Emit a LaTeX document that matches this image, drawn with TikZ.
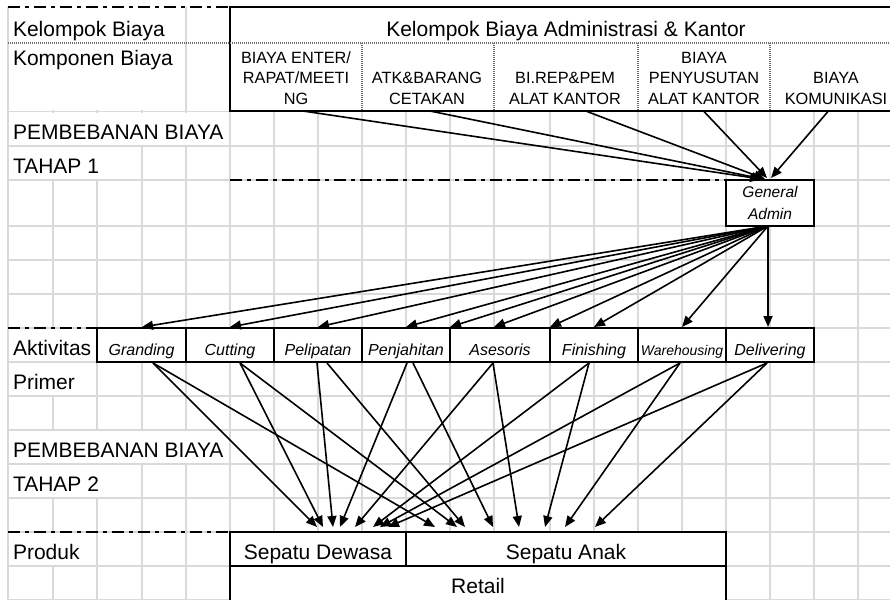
\documentclass[tikz,border=0pt]{standalone}
\usepackage{fontspec}
\setmainfont{Liberation Sans}
\usetikzlibrary{arrows.meta}
\definecolor{gridgray}{RGB}{217,217,217}
\definecolor{dotgray}{RGB}{110,110,110}

\begin{document}
\begin{tikzpicture}[x=1pt,y=-1pt,
  every node/.style={inner sep=0pt,outer sep=0pt},
  grid line/.style={draw=gridgray,line width=1.6pt},
  box line/.style={line width=2pt},
  sep line/.style={draw=dotgray,line width=1.3pt,dash pattern=on 1pt off 1pt},
  dashdot/.style={line width=2pt,dash pattern=on 12pt off 5pt on 4pt off 5pt},
  rowlabel/.style={font=\fontsize{21}{25}\selectfont,anchor=base west},
  comp/.style={font=\fontsize{16.3}{20.5}\selectfont,align=center,anchor=south},
  actbox/.style={draw,line width=2pt,fill=white,font=\fontsize{16}{18}\selectfont\itshape,
    minimum width=#1,text height=27.5pt,text depth=6.5pt,anchor=north west},
  prodbox/.style={draw,line width=2pt,fill=white,font=\fontsize{21}{25}\selectfont,
    minimum width=#1,text height=27.5pt,text depth=6.5pt,anchor=north west},
  flow/.style={-{Triangle[length=11pt,width=9pt]},line width=1.6pt},
]
\useasboundingbox (0,0) rectangle (890,599);
\clip (0,0) rectangle (890,599);

% spreadsheet grid
\foreach \x in {8,53,97,142,186,230,274,318,362,406,450,494,550,594,638,682,726,770,814,858}
  \draw[grid line] (\x,7) -- (\x,600);
% cells whose text runs over the column borders
\fill[white] (9,8) rectangle (185,110);
\fill[white] (9,113) rectangle (229,145);
\fill[white] (9,147) rectangle (141,179);
\fill[white] (9,329) rectangle (96,361);
\fill[white] (9,363) rectangle (96,395);
\fill[white] (9,431) rectangle (229,463);
\fill[white] (9,465) rectangle (141,497);
\fill[white] (9,533) rectangle (96,565);
\foreach \y in {111.5,146,180,226,260,294,328,362,396,430,464,498,532,566,600}
  \draw[grid line] (8,\y) -- (890,\y);

% header block
\draw[box line,fill=white] (905,7) -- (230,7) -- (230,111) -- (905,111);
\draw[sep line] (8,43) -- (890,43);
\foreach \x in {362,494,638,770}
  \draw[sep line] (\x,43) -- (\x,110);

% stage separators
\draw[dashdot] (8,7) -- (230,7);
\draw[dashdot] (230,180) -- (726,180);
\draw[dashdot] (8,328) -- (97,328);
\draw[dashdot] (8,532) -- (230,532);

% row labels
\node[rowlabel] (kb)   at (13,36.5)  {Kelompok Biaya};
\node[rowlabel] (kp)   at (13,66)    {Komponen Biaya};
\node[rowlabel] (pb1)  at (13,139.5) {PEMBEBANAN BIAYA};
\node[rowlabel] (th1)  at (13,173.5) {TAHAP 1};
\node[rowlabel] (akt)  at (13,355.5) {Aktivitas};
\node[rowlabel] (pri)  at (13,389.5) {Primer};
\node[rowlabel] (pb2)  at (13,457.5) {PEMBEBANAN BIAYA};
\node[rowlabel] (th2)  at (13,491.5) {TAHAP 2};
\node[rowlabel] (prod) at (13,559.5) {Produk};

% cost group and components
\node[font=\fontsize{21}{25}\selectfont,anchor=base] (grp) at (566,36.5) {Kelompok Biaya Administrasi \& Kantor};
\node[comp] (enter) at (296,104.5) {BIAYA ENTER/\\RAPAT/MEETI\\NG};
\node[comp] (atk)   at (427,104.5) {ATK\&BARANG\\CETAKAN};
\node[comp] (birep) at (565,104.5) {BI.REP\&PEM\\ALAT KANTOR};
\node[comp] (peny)  at (704,104.5) {BIAYA\\PENYUSUTAN\\ALAT KANTOR};
\node[comp] (kom)   at (836,104.5) {BIAYA\\KOMUNIKASI};

% cost pool
\node[draw,line width=2pt,fill=white,minimum width=88pt,minimum height=46pt,align=center,
  font=\fontsize{15.5}{22}\selectfont\itshape] (admin) at (770,203) {General\\Admin};

% primary activities
\node[actbox=89pt] (granding)    at (97,328)  {Granding};
\node[actbox=88pt] (cutting)     at (186,328) {Cutting};
\node[actbox=88pt] (pelipatan)   at (274,328) {Pelipatan};
\node[actbox=88pt] (penjahitan)  at (362,328) {Penjahitan};
\node[actbox=100pt] (asesoris)   at (450,328) {Asesoris};
\node[actbox=88pt] (finishing)   at (550,328) {Finishing};
\node[actbox=88pt,font=\fontsize{14}{16}\selectfont\itshape] (warehousing) at (638,328) {Warehousing};
\node[actbox=88pt] (delivering)  at (726,328) {Delivering};

% products
\node[prodbox=176pt] (dewasa) at (230,532) {Sepatu Dewasa};
\node[prodbox=320pt] (anak)   at (406,532) {Sepatu Anak};
\node[prodbox=496pt,text depth=14pt] (retail) at (230,566) {Retail};

% stage 1: components to the cost pool
\draw[flow] ([xshift=7pt,yshift=-6.5pt]enter.south) -- ([xshift=-9pt,yshift=1pt]admin.north);
\draw[flow] ([xshift=3pt,yshift=-6.5pt]atk.south)   -- ([xshift=-7pt,yshift=1pt]admin.north);
\draw[flow] ([xshift=22pt,yshift=-7pt]birep.south)  -- ([xshift=-5pt,yshift=1pt]admin.north);
\draw[flow] ([xshift=-1pt,yshift=-6pt]peny.south)   -- ([xshift=-3pt,yshift=2pt]admin.north);
\draw[flow] ([xshift=-8pt,yshift=-7pt]kom.south)    -- ([xshift=1pt,yshift=2pt]admin.north);

% cost pool to activities
\foreach \t/\dx in {granding/0.5,cutting/0,pelipatan/0,penjahitan/0,asesoris/-6,finishing/0,warehousing/0,delivering/-2}
  \draw[flow] ([xshift=-2pt]admin.south) -- ([xshift=\dx pt,yshift=1pt]\t.north);
\draw[flow] ([xshift=-2pt]admin.south) -- ([yshift=1pt]asesoris.north west);
\draw[flow] ([xshift=-2pt]admin.south) -- ([yshift=1pt]finishing.north west);

% stage 2: activities to products
\foreach \s/\sx/\t/\tx in {granding/11.5/dewasa/-1,granding/11.5/anak/-131,
    cutting/10/dewasa/5,cutting/10/anak/-109,
    pelipatan/-1/dewasa/15,pelipatan/9/anak/-101,
    penjahitan/1/dewasa/22,penjahitan/7/anak/-73,
    asesoris/-7/dewasa/37,asesoris/-7/anak/-47,
    finishing/-5/dewasa/55,finishing/-5/anak/-21,
    warehousing/-2/dewasa/62,warehousing/-2/anak/-1,
    delivering/-3/dewasa/70,delivering/-3/anak/29}
  \draw[flow] ([xshift=\sx pt,yshift=-1pt]\s.south) -- ([xshift=\tx pt,yshift=5pt]\t.north);
\end{tikzpicture}
\end{document}
